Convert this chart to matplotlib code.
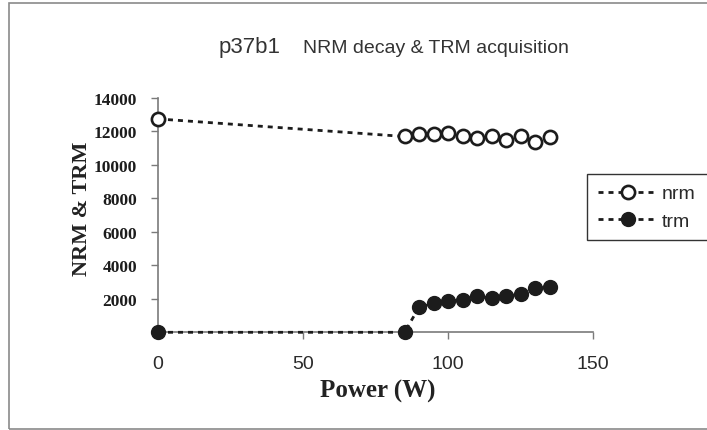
"""Recreate the p37b1 NRM decay / TRM acquisition chart."""

import matplotlib

matplotlib.use("Agg")
import matplotlib.pyplot as plt
from matplotlib.patches import Rectangle

# data
nrm_power = [0, 85, 90, 95, 100, 105, 110, 115, 120, 125, 130, 135]
nrm_values = [12750, 11700, 11850, 11850, 11900, 11750, 11600, 11750,
              11500, 11750, 11400, 11650]
trm_power = [0, 85, 90, 95, 100, 105, 110, 115, 120, 125, 130, 135]
trm_values = [0, 0, 1490, 1730, 1850, 1950, 2150, 2050, 2150, 2290,
              2630, 2690]
x_ticks = [0, 50, 100, 150]
y_ticks = [2000, 4000, 6000, 8000, 10000, 12000, 14000]

W, H = 707, 431
ink = "#1c1c1c"
axis_gray = "#7a7a7a"

fig = plt.figure(figsize=(W / 100, H / 100), dpi=100)
fig.patch.set_facecolor("white")

# outer chart-area border (right side runs off the image)
fig.patches.append(Rectangle((9 / W, 1 - 430 / H), 1.2, (430 - 4) / H,
                             transform=fig.transFigure, fill=False,
                             edgecolor="#8a8a8a", linewidth=1.2))

ax = fig.add_axes([158 / W, 1 - 333.3 / H, (593 - 158) / W, (333.3 - 99) / H])

dash = (0, (1.8, 1.8))
ax.plot(nrm_power, nrm_values, linestyle=dash, color=ink, linewidth=2,
        marker="o", markersize=9.5, markerfacecolor="white",
        markeredgecolor=ink, markeredgewidth=1.9, clip_on=False,
        zorder=3, label="nrm")
ax.plot(trm_power, trm_values, linestyle=dash, color=ink, linewidth=2,
        marker="o", markersize=10, markerfacecolor=ink,
        markeredgecolor=ink, clip_on=False, zorder=3, label="trm")

ax.set_xlim(0, 150)
ax.set_ylim(0, 14000)
ax.set_xticks(x_ticks)
ax.set_yticks(y_ticks)
ax.set_xticklabels([str(v) for v in x_ticks], family="Liberation Sans",
                   fontsize=14, color="#2a2a2a")
ax.set_yticklabels([str(v) for v in y_ticks], family="Liberation Serif",
                   fontweight="bold", fontsize=12.5, color=ink)

for side in ("top", "right"):
    ax.spines[side].set_visible(False)
for side in ("left", "bottom"):
    ax.spines[side].set_color(axis_gray)
    ax.spines[side].set_linewidth(1.2)
ax.tick_params(axis="x", direction="out", length=5, width=1,
               color=axis_gray, pad=11)
ax.tick_params(axis="y", direction="out", length=5, width=1,
               color=axis_gray, pad=10)

ax.set_xlabel("Power (W)", family="Liberation Serif", fontweight="bold",
              fontsize=18, color="#222222")
ax.xaxis.set_label_coords(0.5 + 2 / 435, -0.199)
ax.set_ylabel("NRM & TRM", family="Liberation Serif", fontweight="bold",
              fontsize=16, color="#222222")
ax.yaxis.set_label_coords(-0.152, 0.53)

# title in two sizes
fig.text(219 / W, 1 - 53 / H, "p37b1", family="Liberation Sans",
         fontsize=16, color="#333333", ha="left", va="baseline")
fig.text(303 / W, 1 - 53 / H, "NRM decay & TRM acquisition",
         family="Liberation Sans", fontsize=14, color="#333333",
         ha="left", va="baseline")

# legend box is wider than the image, so its right side is cut off
leg = ax.legend(loc="upper left",
                bbox_to_anchor=(587 / W, 1 - 245 / H, 150 / W, 70 / H),
                bbox_transform=fig.transFigure, borderaxespad=0,
                mode="expand",
                prop={"family": "Liberation Sans", "size": 14},
                handlelength=3.1, handletextpad=0.2, labelspacing=0.5,
                borderpad=0.55, fancybox=False, framealpha=1)
leg.get_frame().set_edgecolor("#333333")
leg.get_frame().set_linewidth(1.0)
for txt in leg.get_texts():
    txt.set_color("#2a2a2a")

fig.savefig("out.png", dpi=100)
